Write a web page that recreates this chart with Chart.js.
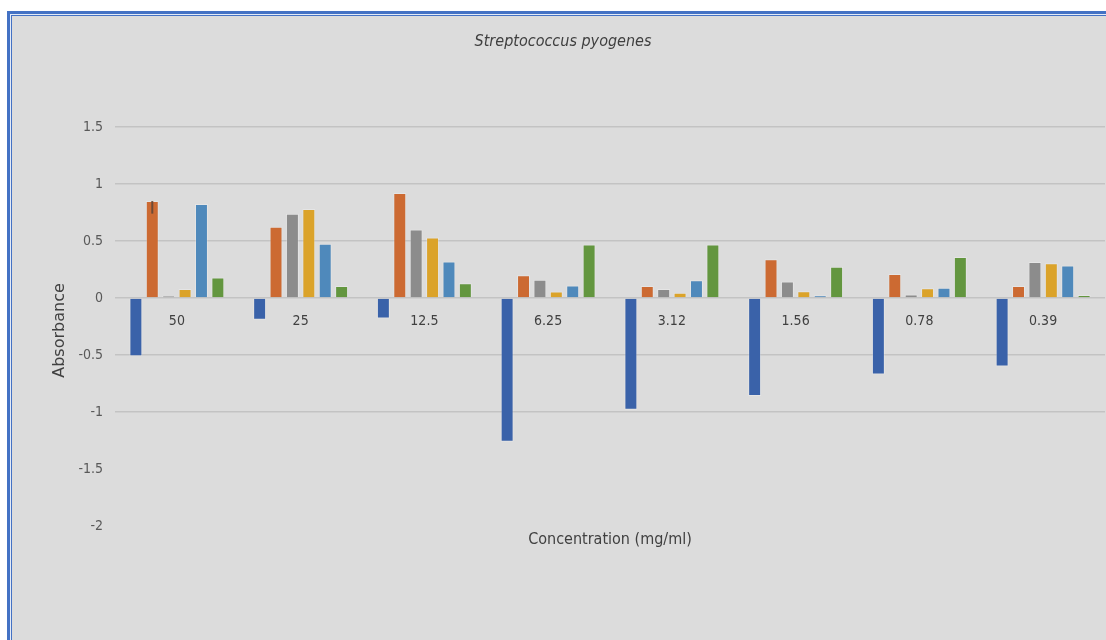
<!DOCTYPE html>
<html lang="en">
<head>
    <meta charset="UTF-8">
    <title>Streptococcus pyogenes</title>
    <script src="https://cdn.jsdelivr.net/npm/chart.js"></script>
    <style>
        body {
            margin: 0;
            background: #ffffff;
            overflow: hidden;
            width: 1106px;
            height: 640px;
        }

        /* double blue frame, cut off at right and bottom like the screenshot */
        #frame {
            position: absolute;
            left: 7px;
            top: 11px;
            width: 1200px;
            height: 700px;
            border-top: 3px solid #4472c4;
            border-left: 3px solid #4472c4;
            background: #e4ebf7;
        }

        #inner {
            position: absolute;
            left: 1px;
            top: 1px;
            width: 1200px;
            height: 700px;
            border-top: 1px solid #4472c4;
            border-left: 1px solid #4472c4;
            background: #dcdcdc;
        }

        .chart-wrapper {
            position: absolute;
            left: 0;
            top: 0;
            width: 1094px;
            height: 624px;
        }
    </style>
</head>
<body>
    <div id="frame">
        <div id="inner">
            <div class="chart-wrapper"><canvas id="absChart"></canvas></div>
        </div>
    </div>

    <script>
        // concentrations (mg/ml)
        const concentrations = ["50", "25", "12.5", "6.25", "3.12", "1.56", "0.78", "0.39"];

        // absorbance values, one array per series
        const series1 = [-0.51, -0.19, -0.18, -1.26, -0.98, -0.86, -0.67, -0.60];
        const series2 = [0.85, 0.625, 0.92, 0.20, 0.105, 0.34, 0.21, 0.105];
        const series3 = [0.02, 0.74, 0.60, 0.16, 0.08, 0.145, 0.03, 0.315];
        const series4 = [0.08, 0.78, 0.53, 0.056, 0.047, 0.06, 0.085, 0.305];
        const series5 = [0.825, 0.475, 0.32, 0.11, 0.155, 0.025, 0.09, 0.285];
        const series6 = [0.18, 0.105, 0.13, 0.47, 0.47, 0.275, 0.36, 0.026];

        // only one error bar shows in the picture (series 2 at 50 mg/ml)
        const series2Err = [0.11, 0, 0, 0, 0, 0, 0, 0];

        const yTicks = { min: -2, max: 1.5, step: 0.5 };

        const seriesNames = ["Series 1", "Series 2", "Series 3", "Series 4", "Series 5", "Series 6"];
        const seriesColors = ["#3a62a9", "#cc6a32", "#8c8c8c", "#dba32a", "#4f89bb", "#63963f"];
        const allSeries = [series1, series2, series3, series4, series5, series6];

        // titles and the error bar are drawn by hand
        const textPlugin = {
            id: "texts",
            afterDatasetsDraw(chart) {
                const c = chart.ctx;
                const y = chart.scales.y;
                const meta = chart.getDatasetMeta(1);
                c.save();
                c.strokeStyle = "#6e4a36";
                c.lineWidth = 2;
                series2Err.forEach((err, i) => {
                    if (!err) return;
                    const bar = meta.data[i];
                    c.beginPath();
                    c.moveTo(bar.x, y.getPixelForValue(series2[i]));
                    c.lineTo(bar.x, y.getPixelForValue(series2[i] - err));
                    c.stroke();
                });
                c.restore();
            },
            afterDraw(chart) {
                const c = chart.ctx;
                const area = chart.chartArea;
                const y = chart.scales.y;
                c.save();
                c.fillStyle = "#404040";
                c.textAlign = "center";
                c.textBaseline = "middle";

                c.font = "italic 16px 'DejaVu Sans Condensed'";
                c.fillText("Streptococcus pyogenes", chart.width / 2 + 4, 26);

                c.font = "16px 'DejaVu Sans Condensed'";
                c.fillText("Concentration (mg/ml)", (area.left + area.right) / 2, y.getPixelForValue(yTicks.min) + 14);

                c.translate(48, (area.top + area.bottom) / 2 + 4);
                c.rotate(-Math.PI / 2);
                c.font = "16px 'DejaVu Sans'";
                c.fillText("Absorbance", 0, 0);
                c.restore();
            }
        };

        new Chart(document.getElementById("absChart"), {
            type: "bar",
            data: {
                labels: concentrations,
                datasets: allSeries.map((values, i) => ({
                    label: seriesNames[i],
                    data: values,
                    backgroundColor: seriesColors[i],
                    borderColor: "rgba(255, 255, 255, 0.25)",
                    borderWidth: 1,
                    categoryPercentage: 0.795,
                    barPercentage: 0.79
                }))
            },
            options: {
                responsive: true,
                maintainAspectRatio: false,
                animation: false,
                layout: {
                    padding: { top: 111, bottom: 114, right: 1, left: 0 }
                },
                plugins: {
                    legend: { display: false },
                    title: { display: false },
                    tooltip: { enabled: false }
                },
                scales: {
                    x: {
                        position: { y: 0 },
                        grid: { display: false },
                        border: { display: false },
                        ticks: {
                            color: "#404040",
                            padding: 7,
                            font: { family: "'DejaVu Sans Condensed'", size: 14 }
                        }
                    },
                    y: {
                        min: yTicks.min,
                        max: yTicks.max,
                        afterFit(scale) { scale.width = 103; },
                        border: { display: false },
                        grid: {
                            drawTicks: false,
                            lineWidth: 1.5,
                            color: ctx => (ctx.tick && ctx.tick.value < -1) ? "rgba(0,0,0,0)" : "#c3c3c3"
                        },
                        ticks: {
                            stepSize: yTicks.step,
                            padding: 12,
                            color: "#595959",
                            font: { family: "'DejaVu Sans Condensed'", size: 14 },
                            callback: v => String(v)
                        }
                    }
                }
            },
            plugins: [textPlugin]
        });
    </script>
</body>
</html>
